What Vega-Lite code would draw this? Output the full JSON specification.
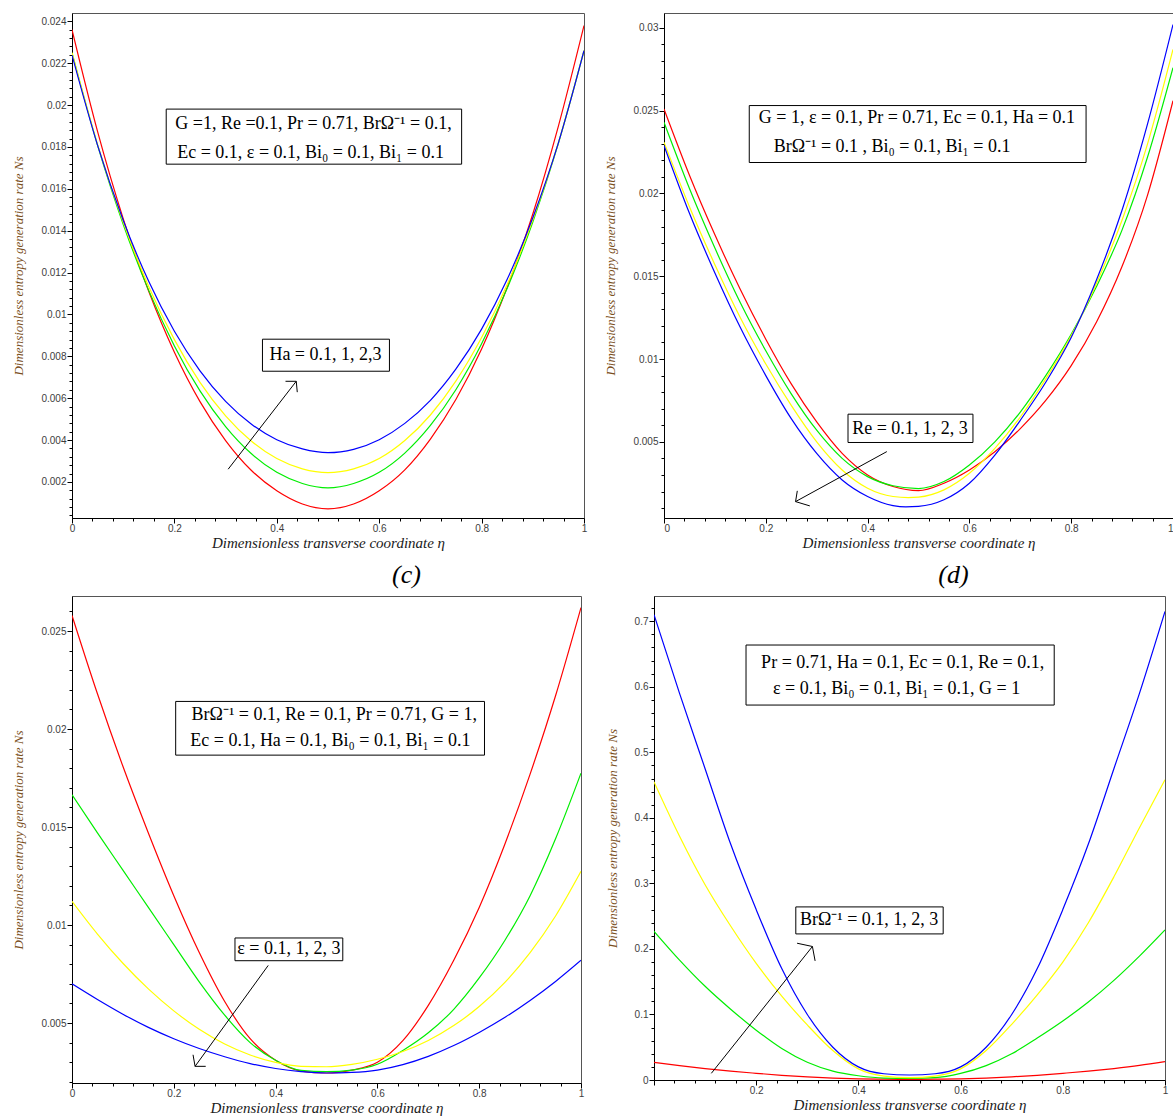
{
  "$schema": "https://vega.github.io/schema/vega-lite/v6.json",
  "padding": {"left": 12, "top": 12, "right": 0, "bottom": 0},
  "autosize": {"type": "pad"},
  "background": "white",
  "config": {
    "view": {"stroke": "#555555", "strokeWidth": 1},
    "axis": {
      "grid": false,
      "labelFont": "Liberation Sans",
      "labelFontSize": 10,
      "labelColor": "#3d3d3d",
      "labelOverlap": false,
      "labelFlush": false,
      "tickColor": "#000000",
      "domainColor": "#000000",
      "titleFont": "Liberation Serif",
      "titleFontStyle": "italic",
      "titleFontWeight": "normal",
      "format": "~g"
    },
    "axisY": {"titleColor": "#7a4f1c", "titleFontSize": 13, "titlePadding": 15, "labelPadding": 1},
    "axisX": {"titleColor": "#1a1a1a", "titleFontSize": 15, "titlePadding": 2, "labelPadding": 0},
    "title": {"font": "Liberation Serif", "fontSize": 26, "fontStyle": "italic", "fontWeight": "normal", "color": "#000000"},
    "text": {"font": "Liberation Serif", "fontSize": 18, "color": "#000000"}
  },
  "datasets": {
    "curvesA": [
      {"eta": 0, "Ns": 0.0236, "value": "0.1"}, {"eta": 0.05, "Ns": 0.01873, "value": "0.1"}, {"eta": 0.1, "Ns": 0.01458, "value": "0.1"}, {"eta": 0.15, "Ns": 0.0111, "value": "0.1"}, {"eta": 0.2, "Ns": 0.0082, "value": "0.1"}, {"eta": 0.25, "Ns": 0.00584, "value": "0.1"}, {"eta": 0.3, "Ns": 0.00398, "value": "0.1"}, {"eta": 0.35, "Ns": 0.00256, "value": "0.1"}, {"eta": 0.4, "Ns": 0.00158, "value": "0.1"}, {"eta": 0.45, "Ns": 0.00095, "value": "0.1"}, {"eta": 0.5, "Ns": 0.00072, "value": "0.1"}, {"eta": 0.55, "Ns": 0.00095, "value": "0.1"}, {"eta": 0.6, "Ns": 0.00158, "value": "0.1"}, {"eta": 0.65, "Ns": 0.00258, "value": "0.1"}, {"eta": 0.7, "Ns": 0.00405, "value": "0.1"}, {"eta": 0.75, "Ns": 0.00595, "value": "0.1"}, {"eta": 0.8, "Ns": 0.00835, "value": "0.1"}, {"eta": 0.85, "Ns": 0.0113, "value": "0.1"}, {"eta": 0.9, "Ns": 0.0148, "value": "0.1"}, {"eta": 0.95, "Ns": 0.019, "value": "0.1"}, {"eta": 1, "Ns": 0.0238, "value": "0.1"},
      {"eta": 0, "Ns": 0.0225, "value": "1"}, {"eta": 0.05, "Ns": 0.01808, "value": "1"}, {"eta": 0.1, "Ns": 0.01431, "value": "1"}, {"eta": 0.15, "Ns": 0.01114, "value": "1"}, {"eta": 0.2, "Ns": 0.0085, "value": "1"}, {"eta": 0.25, "Ns": 0.00635, "value": "1"}, {"eta": 0.3, "Ns": 0.00465, "value": "1"}, {"eta": 0.35, "Ns": 0.00336, "value": "1"}, {"eta": 0.4, "Ns": 0.00246, "value": "1"}, {"eta": 0.45, "Ns": 0.00193, "value": "1"}, {"eta": 0.5, "Ns": 0.00172, "value": "1"}, {"eta": 0.55, "Ns": 0.00193, "value": "1"}, {"eta": 0.6, "Ns": 0.00246, "value": "1"}, {"eta": 0.65, "Ns": 0.00338, "value": "1"}, {"eta": 0.7, "Ns": 0.0047, "value": "1"}, {"eta": 0.75, "Ns": 0.00642, "value": "1"}, {"eta": 0.8, "Ns": 0.0086, "value": "1"}, {"eta": 0.85, "Ns": 0.01125, "value": "1"}, {"eta": 0.9, "Ns": 0.01442, "value": "1"}, {"eta": 0.95, "Ns": 0.01818, "value": "1"}, {"eta": 1, "Ns": 0.0226, "value": "1"},
      {"eta": 0, "Ns": 0.0225, "value": "2"}, {"eta": 0.05, "Ns": 0.01811, "value": "2"}, {"eta": 0.1, "Ns": 0.01441, "value": "2"}, {"eta": 0.15, "Ns": 0.01133, "value": "2"}, {"eta": 0.2, "Ns": 0.0088, "value": "2"}, {"eta": 0.25, "Ns": 0.00676, "value": "2"}, {"eta": 0.3, "Ns": 0.00516, "value": "2"}, {"eta": 0.35, "Ns": 0.00396, "value": "2"}, {"eta": 0.4, "Ns": 0.00312, "value": "2"}, {"eta": 0.45, "Ns": 0.00263, "value": "2"}, {"eta": 0.5, "Ns": 0.00245, "value": "2"}, {"eta": 0.55, "Ns": 0.00263, "value": "2"}, {"eta": 0.6, "Ns": 0.00312, "value": "2"}, {"eta": 0.65, "Ns": 0.00398, "value": "2"}, {"eta": 0.7, "Ns": 0.0052, "value": "2"}, {"eta": 0.75, "Ns": 0.00683, "value": "2"}, {"eta": 0.8, "Ns": 0.0089, "value": "2"}, {"eta": 0.85, "Ns": 0.01143, "value": "2"}, {"eta": 0.9, "Ns": 0.01452, "value": "2"}, {"eta": 0.95, "Ns": 0.0182, "value": "2"}, {"eta": 1, "Ns": 0.0226, "value": "2"},
      {"eta": 0, "Ns": 0.02239, "value": "3"}, {"eta": 0.05, "Ns": 0.01808, "value": "3"}, {"eta": 0.1, "Ns": 0.0145, "value": "3"}, {"eta": 0.15, "Ns": 0.01157, "value": "3"}, {"eta": 0.2, "Ns": 0.0092, "value": "3"}, {"eta": 0.25, "Ns": 0.00731, "value": "3"}, {"eta": 0.3, "Ns": 0.00585, "value": "3"}, {"eta": 0.35, "Ns": 0.00477, "value": "3"}, {"eta": 0.4, "Ns": 0.00402, "value": "3"}, {"eta": 0.45, "Ns": 0.00358, "value": "3"}, {"eta": 0.5, "Ns": 0.0034, "value": "3"}, {"eta": 0.55, "Ns": 0.00356, "value": "3"}, {"eta": 0.6, "Ns": 0.00402, "value": "3"}, {"eta": 0.65, "Ns": 0.0048, "value": "3"}, {"eta": 0.7, "Ns": 0.0059, "value": "3"}, {"eta": 0.75, "Ns": 0.0074, "value": "3"}, {"eta": 0.8, "Ns": 0.0093, "value": "3"}, {"eta": 0.85, "Ns": 0.01168, "value": "3"}, {"eta": 0.9, "Ns": 0.01462, "value": "3"}, {"eta": 0.95, "Ns": 0.0182, "value": "3"}, {"eta": 1, "Ns": 0.0226, "value": "3"}
    ],
    "curvesB": [
      {"eta": 0, "Ns": 0.0251, "value": "0.1"}, {"eta": 0.05, "Ns": 0.0211, "value": "0.1"}, {"eta": 0.1, "Ns": 0.0175, "value": "0.1"}, {"eta": 0.15, "Ns": 0.0142, "value": "0.1"}, {"eta": 0.2, "Ns": 0.0112, "value": "0.1"}, {"eta": 0.25, "Ns": 0.0085, "value": "0.1"}, {"eta": 0.3, "Ns": 0.0062, "value": "0.1"}, {"eta": 0.35, "Ns": 0.0043, "value": "0.1"}, {"eta": 0.4, "Ns": 0.003, "value": "0.1"}, {"eta": 0.45, "Ns": 0.0023, "value": "0.1"}, {"eta": 0.5, "Ns": 0.00205, "value": "0.1"}, {"eta": 0.55, "Ns": 0.0025, "value": "0.1"}, {"eta": 0.6, "Ns": 0.0033, "value": "0.1"}, {"eta": 0.65, "Ns": 0.0044, "value": "0.1"}, {"eta": 0.7, "Ns": 0.0058, "value": "0.1"}, {"eta": 0.75, "Ns": 0.0075, "value": "0.1"}, {"eta": 0.8, "Ns": 0.0096, "value": "0.1"}, {"eta": 0.85, "Ns": 0.01225, "value": "0.1"}, {"eta": 0.9, "Ns": 0.0156, "value": "0.1"}, {"eta": 0.95, "Ns": 0.0199, "value": "0.1"}, {"eta": 1, "Ns": 0.0256, "value": "0.1"},
      {"eta": 0, "Ns": 0.0243, "value": "1"}, {"eta": 0.05, "Ns": 0.0203, "value": "1"}, {"eta": 0.1, "Ns": 0.0167, "value": "1"}, {"eta": 0.15, "Ns": 0.0134, "value": "1"}, {"eta": 0.2, "Ns": 0.0105, "value": "1"}, {"eta": 0.25, "Ns": 0.0079, "value": "1"}, {"eta": 0.3, "Ns": 0.0057, "value": "1"}, {"eta": 0.35, "Ns": 0.004, "value": "1"}, {"eta": 0.4, "Ns": 0.0029, "value": "1"}, {"eta": 0.45, "Ns": 0.00235, "value": "1"}, {"eta": 0.5, "Ns": 0.00218, "value": "1"}, {"eta": 0.55, "Ns": 0.0026, "value": "1"}, {"eta": 0.6, "Ns": 0.0036, "value": "1"}, {"eta": 0.65, "Ns": 0.005, "value": "1"}, {"eta": 0.7, "Ns": 0.0068, "value": "1"}, {"eta": 0.75, "Ns": 0.009, "value": "1"}, {"eta": 0.8, "Ns": 0.0115, "value": "1"}, {"eta": 0.85, "Ns": 0.0144, "value": "1"}, {"eta": 0.9, "Ns": 0.0178, "value": "1"}, {"eta": 0.95, "Ns": 0.0222, "value": "1"}, {"eta": 1, "Ns": 0.0276, "value": "1"},
      {"eta": 0, "Ns": 0.0231, "value": "2"}, {"eta": 0.05, "Ns": 0.0192, "value": "2"}, {"eta": 0.1, "Ns": 0.0157, "value": "2"}, {"eta": 0.15, "Ns": 0.0125, "value": "2"}, {"eta": 0.2, "Ns": 0.0097, "value": "2"}, {"eta": 0.25, "Ns": 0.0072, "value": "2"}, {"eta": 0.3, "Ns": 0.005, "value": "2"}, {"eta": 0.35, "Ns": 0.0033, "value": "2"}, {"eta": 0.4, "Ns": 0.0022, "value": "2"}, {"eta": 0.45, "Ns": 0.0017, "value": "2"}, {"eta": 0.48, "Ns": 0.00163, "value": "2"}, {"eta": 0.5, "Ns": 0.00166, "value": "2"}, {"eta": 0.55, "Ns": 0.0021, "value": "2"}, {"eta": 0.6, "Ns": 0.0031, "value": "2"}, {"eta": 0.65, "Ns": 0.0046, "value": "2"}, {"eta": 0.7, "Ns": 0.0065, "value": "2"}, {"eta": 0.75, "Ns": 0.0088, "value": "2"}, {"eta": 0.8, "Ns": 0.0114, "value": "2"}, {"eta": 0.85, "Ns": 0.0146, "value": "2"}, {"eta": 0.9, "Ns": 0.0184, "value": "2"}, {"eta": 0.95, "Ns": 0.023, "value": "2"}, {"eta": 1, "Ns": 0.0287, "value": "2"},
      {"eta": 0, "Ns": 0.0229, "value": "3"}, {"eta": 0.05, "Ns": 0.0188, "value": "3"}, {"eta": 0.1, "Ns": 0.0152, "value": "3"}, {"eta": 0.15, "Ns": 0.0119, "value": "3"}, {"eta": 0.2, "Ns": 0.009, "value": "3"}, {"eta": 0.25, "Ns": 0.0064, "value": "3"}, {"eta": 0.3, "Ns": 0.0043, "value": "3"}, {"eta": 0.35, "Ns": 0.0027, "value": "3"}, {"eta": 0.4, "Ns": 0.0017, "value": "3"}, {"eta": 0.45, "Ns": 0.00115, "value": "3"}, {"eta": 0.475, "Ns": 0.00107, "value": "3"}, {"eta": 0.5, "Ns": 0.0011, "value": "3"}, {"eta": 0.55, "Ns": 0.0015, "value": "3"}, {"eta": 0.6, "Ns": 0.0025, "value": "3"}, {"eta": 0.65, "Ns": 0.0042, "value": "3"}, {"eta": 0.7, "Ns": 0.0063, "value": "3"}, {"eta": 0.75, "Ns": 0.0086, "value": "3"}, {"eta": 0.8, "Ns": 0.0113, "value": "3"}, {"eta": 0.85, "Ns": 0.0148, "value": "3"}, {"eta": 0.9, "Ns": 0.019, "value": "3"}, {"eta": 0.95, "Ns": 0.0242, "value": "3"}, {"eta": 1, "Ns": 0.0302, "value": "3"}
    ],
    "curvesC": [
      {"eta": 0, "Ns": 0.0258, "value": "0.1"}, {"eta": 0.05, "Ns": 0.0218, "value": "0.1"}, {"eta": 0.1, "Ns": 0.0181, "value": "0.1"}, {"eta": 0.15, "Ns": 0.0147, "value": "0.1"}, {"eta": 0.2, "Ns": 0.0115, "value": "0.1"}, {"eta": 0.25, "Ns": 0.0086, "value": "0.1"}, {"eta": 0.3, "Ns": 0.0061, "value": "0.1"}, {"eta": 0.35, "Ns": 0.0042, "value": "0.1"}, {"eta": 0.4, "Ns": 0.0031, "value": "0.1"}, {"eta": 0.45, "Ns": 0.00255, "value": "0.1"}, {"eta": 0.5, "Ns": 0.00245, "value": "0.1"}, {"eta": 0.55, "Ns": 0.0026, "value": "0.1"}, {"eta": 0.6, "Ns": 0.003, "value": "0.1"}, {"eta": 0.65, "Ns": 0.0041, "value": "0.1"}, {"eta": 0.7, "Ns": 0.0059, "value": "0.1"}, {"eta": 0.75, "Ns": 0.0082, "value": "0.1"}, {"eta": 0.8, "Ns": 0.0109, "value": "0.1"}, {"eta": 0.85, "Ns": 0.0141, "value": "0.1"}, {"eta": 0.9, "Ns": 0.0177, "value": "0.1"}, {"eta": 0.95, "Ns": 0.0217, "value": "0.1"}, {"eta": 1, "Ns": 0.0262, "value": "0.1"},
      {"eta": 0, "Ns": 0.01665, "value": "1"}, {"eta": 0.05, "Ns": 0.0147, "value": "1"}, {"eta": 0.1, "Ns": 0.0128, "value": "1"}, {"eta": 0.15, "Ns": 0.0109, "value": "1"}, {"eta": 0.2, "Ns": 0.009, "value": "1"}, {"eta": 0.25, "Ns": 0.0071, "value": "1"}, {"eta": 0.3, "Ns": 0.0054, "value": "1"}, {"eta": 0.35, "Ns": 0.004, "value": "1"}, {"eta": 0.4, "Ns": 0.0031, "value": "1"}, {"eta": 0.45, "Ns": 0.00258, "value": "1"}, {"eta": 0.5, "Ns": 0.00252, "value": "1"}, {"eta": 0.55, "Ns": 0.0026, "value": "1"}, {"eta": 0.6, "Ns": 0.0029, "value": "1"}, {"eta": 0.65, "Ns": 0.0036, "value": "1"}, {"eta": 0.7, "Ns": 0.0045, "value": "1"}, {"eta": 0.75, "Ns": 0.0057, "value": "1"}, {"eta": 0.8, "Ns": 0.0073, "value": "1"}, {"eta": 0.85, "Ns": 0.0092, "value": "1"}, {"eta": 0.9, "Ns": 0.0115, "value": "1"}, {"eta": 0.95, "Ns": 0.0144, "value": "1"}, {"eta": 1, "Ns": 0.01775, "value": "1"},
      {"eta": 0, "Ns": 0.01121, "value": "2"}, {"eta": 0.05, "Ns": 0.00954, "value": "2"}, {"eta": 0.1, "Ns": 0.00805, "value": "2"}, {"eta": 0.15, "Ns": 0.00674, "value": "2"}, {"eta": 0.2, "Ns": 0.00562, "value": "2"}, {"eta": 0.25, "Ns": 0.00468, "value": "2"}, {"eta": 0.3, "Ns": 0.00393, "value": "2"}, {"eta": 0.35, "Ns": 0.00337, "value": "2"}, {"eta": 0.4, "Ns": 0.00299, "value": "2"}, {"eta": 0.45, "Ns": 0.00279, "value": "2"}, {"eta": 0.5, "Ns": 0.00277, "value": "2"}, {"eta": 0.55, "Ns": 0.00289, "value": "2"}, {"eta": 0.6, "Ns": 0.00315, "value": "2"}, {"eta": 0.65, "Ns": 0.00355, "value": "2"}, {"eta": 0.7, "Ns": 0.00411, "value": "2"}, {"eta": 0.75, "Ns": 0.00487, "value": "2"}, {"eta": 0.8, "Ns": 0.00584, "value": "2"}, {"eta": 0.85, "Ns": 0.00706, "value": "2"}, {"eta": 0.9, "Ns": 0.00859, "value": "2"}, {"eta": 0.95, "Ns": 0.01046, "value": "2"}, {"eta": 1, "Ns": 0.01274, "value": "2"},
      {"eta": 0, "Ns": 0.007, "value": "3"}, {"eta": 0.05, "Ns": 0.0062, "value": "3"}, {"eta": 0.1, "Ns": 0.00545, "value": "3"}, {"eta": 0.15, "Ns": 0.00478, "value": "3"}, {"eta": 0.2, "Ns": 0.0042, "value": "3"}, {"eta": 0.25, "Ns": 0.0037, "value": "3"}, {"eta": 0.3, "Ns": 0.00328, "value": "3"}, {"eta": 0.35, "Ns": 0.00293, "value": "3"}, {"eta": 0.4, "Ns": 0.00268, "value": "3"}, {"eta": 0.45, "Ns": 0.00252, "value": "3"}, {"eta": 0.5, "Ns": 0.00245, "value": "3"}, {"eta": 0.55, "Ns": 0.00248, "value": "3"}, {"eta": 0.6, "Ns": 0.0026, "value": "3"}, {"eta": 0.65, "Ns": 0.00288, "value": "3"}, {"eta": 0.7, "Ns": 0.0033, "value": "3"}, {"eta": 0.75, "Ns": 0.00385, "value": "3"}, {"eta": 0.8, "Ns": 0.00452, "value": "3"}, {"eta": 0.85, "Ns": 0.00528, "value": "3"}, {"eta": 0.9, "Ns": 0.00615, "value": "3"}, {"eta": 0.95, "Ns": 0.00712, "value": "3"}, {"eta": 1, "Ns": 0.0082, "value": "3"}
    ],
    "curvesD": [
      {"eta": 0, "Ns": 0.027, "value": "0.1"}, {"eta": 0.05, "Ns": 0.022, "value": "0.1"}, {"eta": 0.1, "Ns": 0.0175, "value": "0.1"}, {"eta": 0.15, "Ns": 0.0135, "value": "0.1"}, {"eta": 0.2, "Ns": 0.0102, "value": "0.1"}, {"eta": 0.25, "Ns": 0.0072, "value": "0.1"}, {"eta": 0.3, "Ns": 0.0048, "value": "0.1"}, {"eta": 0.35, "Ns": 0.003, "value": "0.1"}, {"eta": 0.4, "Ns": 0.0018, "value": "0.1"}, {"eta": 0.45, "Ns": 0.0012, "value": "0.1"}, {"eta": 0.5, "Ns": 0.001, "value": "0.1"}, {"eta": 0.55, "Ns": 0.0012, "value": "0.1"}, {"eta": 0.6, "Ns": 0.0018, "value": "0.1"}, {"eta": 0.65, "Ns": 0.003, "value": "0.1"}, {"eta": 0.7, "Ns": 0.0048, "value": "0.1"}, {"eta": 0.75, "Ns": 0.0072, "value": "0.1"}, {"eta": 0.8, "Ns": 0.0102, "value": "0.1"}, {"eta": 0.85, "Ns": 0.0135, "value": "0.1"}, {"eta": 0.9, "Ns": 0.0175, "value": "0.1"}, {"eta": 0.95, "Ns": 0.0222, "value": "0.1"}, {"eta": 1, "Ns": 0.028, "value": "0.1"},
      {"eta": 0, "Ns": 0.227, "value": "1"}, {"eta": 0.05, "Ns": 0.183, "value": "1"}, {"eta": 0.1, "Ns": 0.143, "value": "1"}, {"eta": 0.15, "Ns": 0.108, "value": "1"}, {"eta": 0.2, "Ns": 0.076, "value": "1"}, {"eta": 0.25, "Ns": 0.048, "value": "1"}, {"eta": 0.3, "Ns": 0.027, "value": "1"}, {"eta": 0.35, "Ns": 0.0135, "value": "1"}, {"eta": 0.4, "Ns": 0.0065, "value": "1"}, {"eta": 0.45, "Ns": 0.003, "value": "1"}, {"eta": 0.5, "Ns": 0.0025, "value": "1"}, {"eta": 0.55, "Ns": 0.0035, "value": "1"}, {"eta": 0.6, "Ns": 0.01, "value": "1"}, {"eta": 0.65, "Ns": 0.022, "value": "1"}, {"eta": 0.7, "Ns": 0.04, "value": "1"}, {"eta": 0.75, "Ns": 0.064, "value": "1"}, {"eta": 0.8, "Ns": 0.09, "value": "1"}, {"eta": 0.85, "Ns": 0.119, "value": "1"}, {"eta": 0.9, "Ns": 0.152, "value": "1"}, {"eta": 0.95, "Ns": 0.189, "value": "1"}, {"eta": 1, "Ns": 0.229, "value": "1"},
      {"eta": 0, "Ns": 0.455, "value": "2"}, {"eta": 0.05, "Ns": 0.372, "value": "2"}, {"eta": 0.1, "Ns": 0.298, "value": "2"}, {"eta": 0.15, "Ns": 0.235, "value": "2"}, {"eta": 0.2, "Ns": 0.178, "value": "2"}, {"eta": 0.25, "Ns": 0.128, "value": "2"}, {"eta": 0.3, "Ns": 0.084, "value": "2"}, {"eta": 0.35, "Ns": 0.045, "value": "2"}, {"eta": 0.4, "Ns": 0.017, "value": "2"}, {"eta": 0.45, "Ns": 0.006, "value": "2"}, {"eta": 0.5, "Ns": 0.0036, "value": "2"}, {"eta": 0.55, "Ns": 0.006, "value": "2"}, {"eta": 0.6, "Ns": 0.017, "value": "2"}, {"eta": 0.65, "Ns": 0.045, "value": "2"}, {"eta": 0.7, "Ns": 0.085, "value": "2"}, {"eta": 0.75, "Ns": 0.13, "value": "2"}, {"eta": 0.8, "Ns": 0.18, "value": "2"}, {"eta": 0.85, "Ns": 0.24, "value": "2"}, {"eta": 0.9, "Ns": 0.31, "value": "2"}, {"eta": 0.95, "Ns": 0.385, "value": "2"}, {"eta": 1, "Ns": 0.458, "value": "2"},
      {"eta": 0, "Ns": 0.71, "value": "3"}, {"eta": 0.05, "Ns": 0.59, "value": "3"}, {"eta": 0.1, "Ns": 0.475, "value": "3"}, {"eta": 0.15, "Ns": 0.36, "value": "3"}, {"eta": 0.2, "Ns": 0.26, "value": "3"}, {"eta": 0.25, "Ns": 0.17, "value": "3"}, {"eta": 0.3, "Ns": 0.1, "value": "3"}, {"eta": 0.35, "Ns": 0.05, "value": "3"}, {"eta": 0.4, "Ns": 0.02, "value": "3"}, {"eta": 0.45, "Ns": 0.0095, "value": "3"}, {"eta": 0.5, "Ns": 0.0076, "value": "3"}, {"eta": 0.55, "Ns": 0.0095, "value": "3"}, {"eta": 0.6, "Ns": 0.02, "value": "3"}, {"eta": 0.65, "Ns": 0.05, "value": "3"}, {"eta": 0.7, "Ns": 0.1, "value": "3"}, {"eta": 0.75, "Ns": 0.17, "value": "3"}, {"eta": 0.8, "Ns": 0.26, "value": "3"}, {"eta": 0.85, "Ns": 0.36, "value": "3"}, {"eta": 0.9, "Ns": 0.475, "value": "3"}, {"eta": 0.95, "Ns": 0.59, "value": "3"}, {"eta": 1, "Ns": 0.715, "value": "3"}
    ],
    "boxesA": [{"eta": 0.184, "eta2": 0.761, "Ns": 0.01981, "Ns2": 0.01718}, {"eta": 0.372, "eta2": 0.62, "Ns": 0.00882, "Ns2": 0.00729}],
    "boxesB": [{"eta": 0.1675, "eta2": 0.8292, "Ns": 0.02531, "Ns2": 0.02187}, {"eta": 0.3615, "eta2": 0.607, "Ns": 0.00667, "Ns2": 0.00496}],
    "boxesC": [{"eta": 0.2037, "eta2": 0.8104, "Ns": 0.02141, "Ns2": 0.01867}, {"eta": 0.3202, "eta2": 0.532, "Ns": 0.00934, "Ns2": 0.00818}],
    "boxesD": [{"eta": 0.1801, "eta2": 0.7832, "Ns": 0.6637, "Ns2": 0.5721}, {"eta": 0.2775, "eta2": 0.5659, "Ns": 0.2641, "Ns2": 0.2229}],
    "notesA": [
      {"eta": 0.4716, "Ns": 0.01909, "label": "G =1, Re =0.1,  Pr = 0.71, BrΩ⁻¹ = 0.1,"},
      {"eta": 0.466, "Ns": 0.01771, "label": "Ec = 0.1, ε = 0.1, Bi₀ = 0.1, Bi₁ = 0.1"},
      {"eta": 0.495, "Ns": 0.00805, "label": "Ha = 0.1, 1, 2,3"}
    ],
    "notesB": [
      {"eta": 0.497, "Ns": 0.02453, "label": "G = 1, ε = 0.1,  Pr = 0.71, Ec = 0.1, Ha = 0.1"},
      {"eta": 0.448, "Ns": 0.02278, "label": "BrΩ⁻¹ = 0.1 , Bi₀ = 0.1, Bi₁ = 0.1"},
      {"eta": 0.4833, "Ns": 0.00579, "label": "Re = 0.1, 1, 2, 3"}
    ],
    "notesC": [
      {"eta": 0.5153, "Ns": 0.02072, "label": "BrΩ⁻¹ = 0.1, Re = 0.1,  Pr = 0.71, G = 1,"},
      {"eta": 0.5075, "Ns": 0.01941, "label": "Ec = 0.1, Ha = 0.1, Bi₀ = 0.1, Bi₁ = 0.1"},
      {"eta": 0.4261, "Ns": 0.00878, "label": "ε = 0.1, 1, 2, 3"}
    ],
    "notesD": [
      {"eta": 0.4866, "Ns": 0.6362, "label": "Pr = 0.71,  Ha = 0.1,  Ec = 0.1, Re = 0.1,"},
      {"eta": 0.4748, "Ns": 0.5965, "label": "ε = 0.1, Bi₀ = 0.1, Bi₁ = 0.1, G = 1"},
      {"eta": 0.421, "Ns": 0.2438, "label": "BrΩ⁻¹ = 0.1, 1, 2, 3"}
    ],
    "arrowA": [
      {"eta": 0.305, "Ns": 0.00261, "eta2": 0.438, "Ns2": 0.00681},
      {"eta": 0.438, "Ns": 0.00681, "eta2": 0.417, "Ns2": 0.00681},
      {"eta": 0.438, "Ns": 0.00681, "eta2": 0.44, "Ns2": 0.00629}
    ],
    "arrowB": [
      {"eta": 0.4378, "Ns": 0.00441, "eta2": 0.2585, "Ns2": 0.00139},
      {"eta": 0.2585, "Ns": 0.00139, "eta2": 0.2619, "Ns2": 0.00204},
      {"eta": 0.2585, "Ns": 0.00139, "eta2": 0.2865, "Ns2": 0.00113}
    ],
    "arrowC": [
      {"eta": 0.3855, "Ns": 0.00794, "eta2": 0.2418, "Ns2": 0.00279},
      {"eta": 0.2418, "Ns": 0.00279, "eta2": 0.2378, "Ns2": 0.00338},
      {"eta": 0.2418, "Ns": 0.00279, "eta2": 0.2627, "Ns2": 0.00279}
    ],
    "arrowD": [
      {"eta": 0.1122, "Ns": 0.0102, "eta2": 0.31, "Ns2": 0.2037},
      {"eta": 0.31, "Ns": 0.2037, "eta2": 0.28, "Ns2": 0.2087},
      {"eta": 0.31, "Ns": 0.2037, "eta2": 0.3153, "Ns2": 0.1817}
    ]
  },
  "spacing": 10,
  "vconcat": [
    {
      "spacing": 80,
      "bounds": "flush",
      "hconcat": [
        {
          "width": 512,
          "height": 505,
          "encoding": {
            "x": {"field": "eta", "type": "quantitative", "scale": {"domain": [0, 1], "nice": false, "zero": false},
              "axis": {"title": "Dimensionless transverse coordinate η",
                "values": [0, 0.04, 0.08, 0.12, 0.16, 0.2, 0.24, 0.28, 0.32, 0.36, 0.4, 0.44, 0.48, 0.52, 0.56, 0.6, 0.64, 0.68, 0.72, 0.76, 0.8, 0.84, 0.88, 0.92, 0.96, 1],
                "labelExpr": "abs(datum.value / 0.2 - round(datum.value / 0.2)) < 0.01 ? datum.label : ''",
                "tickSize": {"condition": {"test": "abs(datum.value / 0.2 - round(datum.value / 0.2)) < 0.01", "value": 5}, "value": 3}}},
            "y": {"field": "Ns", "type": "quantitative", "scale": {"domain": [0.00028, 0.0244], "nice": false, "zero": false},
              "axis": {"title": "Dimensionless entropy generation rate Ns",
                "values": [0.0004, 0.0008, 0.0012, 0.0016, 0.002, 0.0024, 0.0028, 0.0032, 0.0036, 0.004, 0.0044, 0.0048, 0.0052, 0.0056, 0.006, 0.0064, 0.0068, 0.0072, 0.0076, 0.008, 0.0084, 0.0088, 0.0092, 0.0096, 0.01, 0.0104, 0.0108, 0.0112, 0.0116, 0.012, 0.0124, 0.0128, 0.0132, 0.0136, 0.014, 0.0144, 0.0148, 0.0152, 0.0156, 0.016, 0.0164, 0.0168, 0.0172, 0.0176, 0.018, 0.0184, 0.0188, 0.0192, 0.0196, 0.02, 0.0204, 0.0208, 0.0212, 0.0216, 0.022, 0.0224, 0.0228, 0.0232, 0.0236, 0.024],
                "labelExpr": "abs(datum.value / 0.002 - round(datum.value / 0.002)) < 0.01 ? datum.label : ''",
                "tickSize": {"condition": {"test": "abs(datum.value / 0.002 - round(datum.value / 0.002)) < 0.01", "value": 5}, "value": 3}}}
          },
          "layer": [
            {"data": {"name": "curvesA"}, "mark": {"type": "line", "strokeWidth": 1.2, "interpolate": "monotone", "clip": true},
              "encoding": {"color": {"field": "value", "type": "nominal", "scale": {"domain": ["0.1", "1", "2", "3"], "range": ["#ff0000", "#00ee00", "#ffff00", "#0000ff"]}, "legend": null}}},
            {"data": {"name": "boxesA"}, "mark": {"type": "rect", "fill": "white", "stroke": "#000000", "strokeWidth": 1},
              "encoding": {"x2": {"field": "eta2"}, "y2": {"field": "Ns2"}}},
            {"data": {"name": "notesA"}, "mark": {"type": "text", "align": "center", "baseline": "middle"},
              "encoding": {"text": {"field": "label"}}},
            {"data": {"name": "arrowA"}, "mark": {"type": "rule", "color": "#000000", "strokeWidth": 1},
              "encoding": {"x2": {"field": "eta2"}, "y2": {"field": "Ns2"}}}
          ]
        },
        {
          "width": 509,
          "height": 505,
          "encoding": {
            "x": {"field": "eta", "type": "quantitative", "scale": {"domain": [0, 1], "nice": false, "zero": false},
              "axis": {"title": "Dimensionless transverse coordinate η", "labelFlush": true,
                "values": [0, 0.04, 0.08, 0.12, 0.16, 0.2, 0.24, 0.28, 0.32, 0.36, 0.4, 0.44, 0.48, 0.52, 0.56, 0.6, 0.64, 0.68, 0.72, 0.76, 0.8, 0.84, 0.88, 0.92, 0.96, 1],
                "labelExpr": "abs(datum.value / 0.2 - round(datum.value / 0.2)) < 0.01 ? datum.label : ''",
                "tickSize": {"condition": {"test": "abs(datum.value / 0.2 - round(datum.value / 0.2)) < 0.01", "value": 5}, "value": 3}}},
            "y": {"field": "Ns", "type": "quantitative", "scale": {"domain": [0.0004, 0.0309], "nice": false, "zero": false},
              "axis": {"title": "Dimensionless entropy generation rate Ns",
                "values": [0.001, 0.002, 0.003, 0.004, 0.005, 0.006, 0.007, 0.008, 0.009, 0.01, 0.011, 0.012, 0.013, 0.014, 0.015, 0.016, 0.017, 0.018, 0.019, 0.02, 0.021, 0.022, 0.023, 0.024, 0.025, 0.026, 0.027, 0.028, 0.029, 0.03],
                "labelExpr": "abs(datum.value / 0.005 - round(datum.value / 0.005)) < 0.01 ? datum.label : ''",
                "tickSize": {"condition": {"test": "abs(datum.value / 0.005 - round(datum.value / 0.005)) < 0.01", "value": 5}, "value": 3}}}
          },
          "layer": [
            {"data": {"name": "curvesB"}, "mark": {"type": "line", "strokeWidth": 1.2, "interpolate": "monotone", "clip": true},
              "encoding": {"color": {"field": "value", "type": "nominal", "scale": {"domain": ["0.1", "1", "2", "3"], "range": ["#ff0000", "#00ee00", "#ffff00", "#0000ff"]}, "legend": null}}},
            {"data": {"name": "boxesB"}, "mark": {"type": "rect", "fill": "white", "stroke": "#000000", "strokeWidth": 1},
              "encoding": {"x2": {"field": "eta2"}, "y2": {"field": "Ns2"}}},
            {"data": {"name": "notesB"}, "mark": {"type": "text", "align": "center", "baseline": "middle"},
              "encoding": {"text": {"field": "label"}}},
            {"data": {"name": "arrowB"}, "mark": {"type": "rule", "color": "#000000", "strokeWidth": 1},
              "encoding": {"x2": {"field": "eta2"}, "y2": {"field": "Ns2"}}}
          ]
        }
      ]
    },
    {
      "spacing": 73,
      "bounds": "flush",
      "hconcat": [
        {
          "width": 509,
          "height": 487,
          "title": {"text": "(c)", "dx": 80, "offset": 8},
          "encoding": {
            "x": {"field": "eta", "type": "quantitative", "scale": {"domain": [0, 1], "nice": false, "zero": false},
              "axis": {"title": "Dimensionless transverse coordinate η",
                "values": [0, 0.04, 0.08, 0.12, 0.16, 0.2, 0.24, 0.28, 0.32, 0.36, 0.4, 0.44, 0.48, 0.52, 0.56, 0.6, 0.64, 0.68, 0.72, 0.76, 0.8, 0.84, 0.88, 0.92, 0.96, 1],
                "labelExpr": "abs(datum.value / 0.2 - round(datum.value / 0.2)) < 0.01 ? datum.label : ''",
                "tickSize": {"condition": {"test": "abs(datum.value / 0.2 - round(datum.value / 0.2)) < 0.01", "value": 5}, "value": 3}}},
            "y": {"field": "Ns", "type": "quantitative", "scale": {"domain": [0.00194, 0.02679], "nice": false, "zero": false},
              "axis": {"title": "Dimensionless entropy generation rate Ns",
                "values": [0.002, 0.003, 0.004, 0.005, 0.006, 0.007, 0.008, 0.009, 0.01, 0.011, 0.012, 0.013, 0.014, 0.015, 0.016, 0.017, 0.018, 0.019, 0.02, 0.021, 0.022, 0.023, 0.024, 0.025, 0.026],
                "labelExpr": "abs(datum.value / 0.005 - round(datum.value / 0.005)) < 0.01 ? datum.label : ''",
                "tickSize": {"condition": {"test": "abs(datum.value / 0.005 - round(datum.value / 0.005)) < 0.01", "value": 5}, "value": 3}}}
          },
          "layer": [
            {"data": {"name": "curvesC"}, "mark": {"type": "line", "strokeWidth": 1.2, "interpolate": "monotone", "clip": true},
              "encoding": {"color": {"field": "value", "type": "nominal", "scale": {"domain": ["0.1", "1", "2", "3"], "range": ["#ff0000", "#00ee00", "#ffff00", "#0000ff"]}, "legend": null}}},
            {"data": {"name": "boxesC"}, "mark": {"type": "rect", "fill": "white", "stroke": "#000000", "strokeWidth": 1},
              "encoding": {"x2": {"field": "eta2"}, "y2": {"field": "Ns2"}}},
            {"data": {"name": "notesC"}, "mark": {"type": "text", "align": "center", "baseline": "middle"},
              "encoding": {"text": {"field": "label"}}},
            {"data": {"name": "arrowC"}, "mark": {"type": "rule", "color": "#000000", "strokeWidth": 1},
              "encoding": {"x2": {"field": "eta2"}, "y2": {"field": "Ns2"}}}
          ]
        },
        {
          "width": 511,
          "height": 484,
          "title": {"text": "(d)", "dx": 44, "offset": 8},
          "encoding": {
            "x": {"field": "eta", "type": "quantitative", "scale": {"domain": [0, 1], "nice": false, "zero": false},
              "axis": {"title": "Dimensionless transverse coordinate η",
                "values": [0, 0.04, 0.08, 0.12, 0.16, 0.2, 0.24, 0.28, 0.32, 0.36, 0.4, 0.44, 0.48, 0.52, 0.56, 0.6, 0.64, 0.68, 0.72, 0.76, 0.8, 0.84, 0.88, 0.92, 0.96, 1],
                "labelExpr": "datum.value > 0.01 && abs(datum.value / 0.2 - round(datum.value / 0.2)) < 0.01 ? datum.label : ''",
                "tickSize": {"condition": {"test": "abs(datum.value / 0.2 - round(datum.value / 0.2)) < 0.01", "value": 5}, "value": 3}}},
            "y": {"field": "Ns", "type": "quantitative", "scale": {"domain": [0, 0.7385], "nice": false, "zero": false},
              "axis": {"title": "Dimensionless entropy generation rate Ns",
                "values": [0, 0.02, 0.04, 0.06, 0.08, 0.1, 0.12, 0.14, 0.16, 0.18, 0.2, 0.22, 0.24, 0.26, 0.28, 0.3, 0.32, 0.34, 0.36, 0.38, 0.4, 0.42, 0.44, 0.46, 0.48, 0.5, 0.52, 0.54, 0.56, 0.58, 0.6, 0.62, 0.64, 0.66, 0.68, 0.7, 0.72],
                "labelExpr": "abs(datum.value / 0.1 - round(datum.value / 0.1)) < 0.01 ? datum.label : ''",
                "tickSize": {"condition": {"test": "abs(datum.value / 0.1 - round(datum.value / 0.1)) < 0.01", "value": 5}, "value": 3}}}
          },
          "layer": [
            {"data": {"name": "curvesD"}, "mark": {"type": "line", "strokeWidth": 1.2, "interpolate": "monotone", "clip": true},
              "encoding": {"color": {"field": "value", "type": "nominal", "scale": {"domain": ["0.1", "1", "2", "3"], "range": ["#ff0000", "#00ee00", "#ffff00", "#0000ff"]}, "legend": null}}},
            {"data": {"name": "boxesD"}, "mark": {"type": "rect", "fill": "white", "stroke": "#000000", "strokeWidth": 1},
              "encoding": {"x2": {"field": "eta2"}, "y2": {"field": "Ns2"}}},
            {"data": {"name": "notesD"}, "mark": {"type": "text", "align": "center", "baseline": "middle"},
              "encoding": {"text": {"field": "label"}}},
            {"data": {"name": "arrowD"}, "mark": {"type": "rule", "color": "#000000", "strokeWidth": 1},
              "encoding": {"x2": {"field": "eta2"}, "y2": {"field": "Ns2"}}}
          ]
        }
      ]
    }
  ]
}
